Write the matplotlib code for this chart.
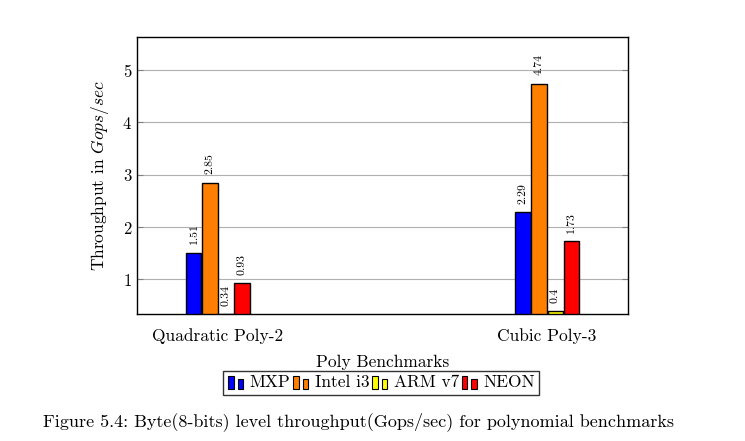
import matplotlib
matplotlib.use("Agg")
import matplotlib.pyplot as plt
import numpy as np
from matplotlib.patches import Rectangle
from matplotlib.legend_handler import HandlerBase

plt.rcParams['font.family'] = ['cmr10', 'DejaVu Serif']
plt.rcParams['mathtext.fontset'] = 'cm'
plt.rcParams['axes.formatter.use_mathtext'] = True

benchmarks = ["Quadratic Poly-2", "Cubic Poly-3"]
series = ["MXP", "Intel i3", "ARM v7", "NEON"]
colors = ["#0000ff", "#ff8000", "#ffff00", "#ff0000"]
values = {
    "MXP": [1.51, 2.29],
    "Intel i3": [2.85, 4.74],
    "ARM v7": [0.34, 0.4],
    "NEON": [0.93, 1.73],
}


class TwoBarHandler(HandlerBase):
    def create_artists(self, legend, orig_handle, xd, yd, w, h, fontsize, trans):
        fc = orig_handle.get_facecolor()
        bw = w * 0.3
        r1 = Rectangle((xd + w * 0.05, yd - h * 0.1), bw, h * 1.05, facecolor=fc,
                       edgecolor='black', lw=0.8, transform=trans)
        r2 = Rectangle((xd + w * 0.55, yd - h * 0.1), bw, h * 0.8, facecolor=fc,
                       edgecolor='black', lw=0.8, transform=trans)
        return [r1, r2]


fig = plt.figure(figsize=(7.45, 4.41), dpi=100)
ax = fig.add_axes([0.1839, 0.288, 0.843 - 0.1839, 0.916 - 0.288])

x = np.arange(len(benchmarks))
width = 0.046
step = 0.0487
ymin = 0.34
handles = []
for i, (name, c) in enumerate(zip(series, colors)):
    pos = x + (i - 1.5) * step
    vals = np.array(values[name])
    bars = ax.bar(pos, vals - ymin, width, bottom=ymin, color=c, edgecolor='black',
                  linewidth=1.0, label=name, zorder=3)
    handles.append(bars[0])
    for p, v in zip(pos, vals):
        ax.annotate(f"{v:g}", (p, v), xytext=(0, 6), textcoords='offset points',
                    rotation=90, ha='center', va='bottom', fontsize=8.5)

ax.set_xlim(-0.246, 1.246)
ax.set_ylim(ymin, 5.63)
ax.set_yticks([1, 2, 3, 4, 5])
ax.set_xticks(x)
ax.set_xticklabels(benchmarks, fontsize=12.5)
ax.tick_params(axis='x', length=0, pad=10)
ax.tick_params(axis='y', direction='in', left=True, right=True, length=4,
               labelsize=12, color='#808080')
ax.grid(axis='y', color='#b0b0b0', linewidth=0.8, zorder=0)
for s in ax.spines.values():
    s.set_linewidth(1.0)

ax.set_xlabel("Poly Benchmarks", fontsize=12.5, labelpad=8)
ax.set_ylabel("Throughput in $Gops/sec$", fontsize=12.5, labelpad=8)

leg = ax.legend(handles, series, handler_map={h: TwoBarHandler() for h in handles},
                loc='upper center', bbox_to_anchor=(0.497, -0.205), ncol=4,
                fontsize=12.5, frameon=True, fancybox=False, edgecolor='black',
                handlelength=1.1, handletextpad=0.2, columnspacing=0.1,
                borderpad=0.25, borderaxespad=0)
leg.get_frame().set_linewidth(1.0)

fig.text(0.481, 0.043, "Figure 5.4: Byte(8-bits) level throughput(Gops/sec) for polynomial benchmarks",
         ha='center', va='center', fontsize=13)

fig.savefig("out.png", dpi=100)
